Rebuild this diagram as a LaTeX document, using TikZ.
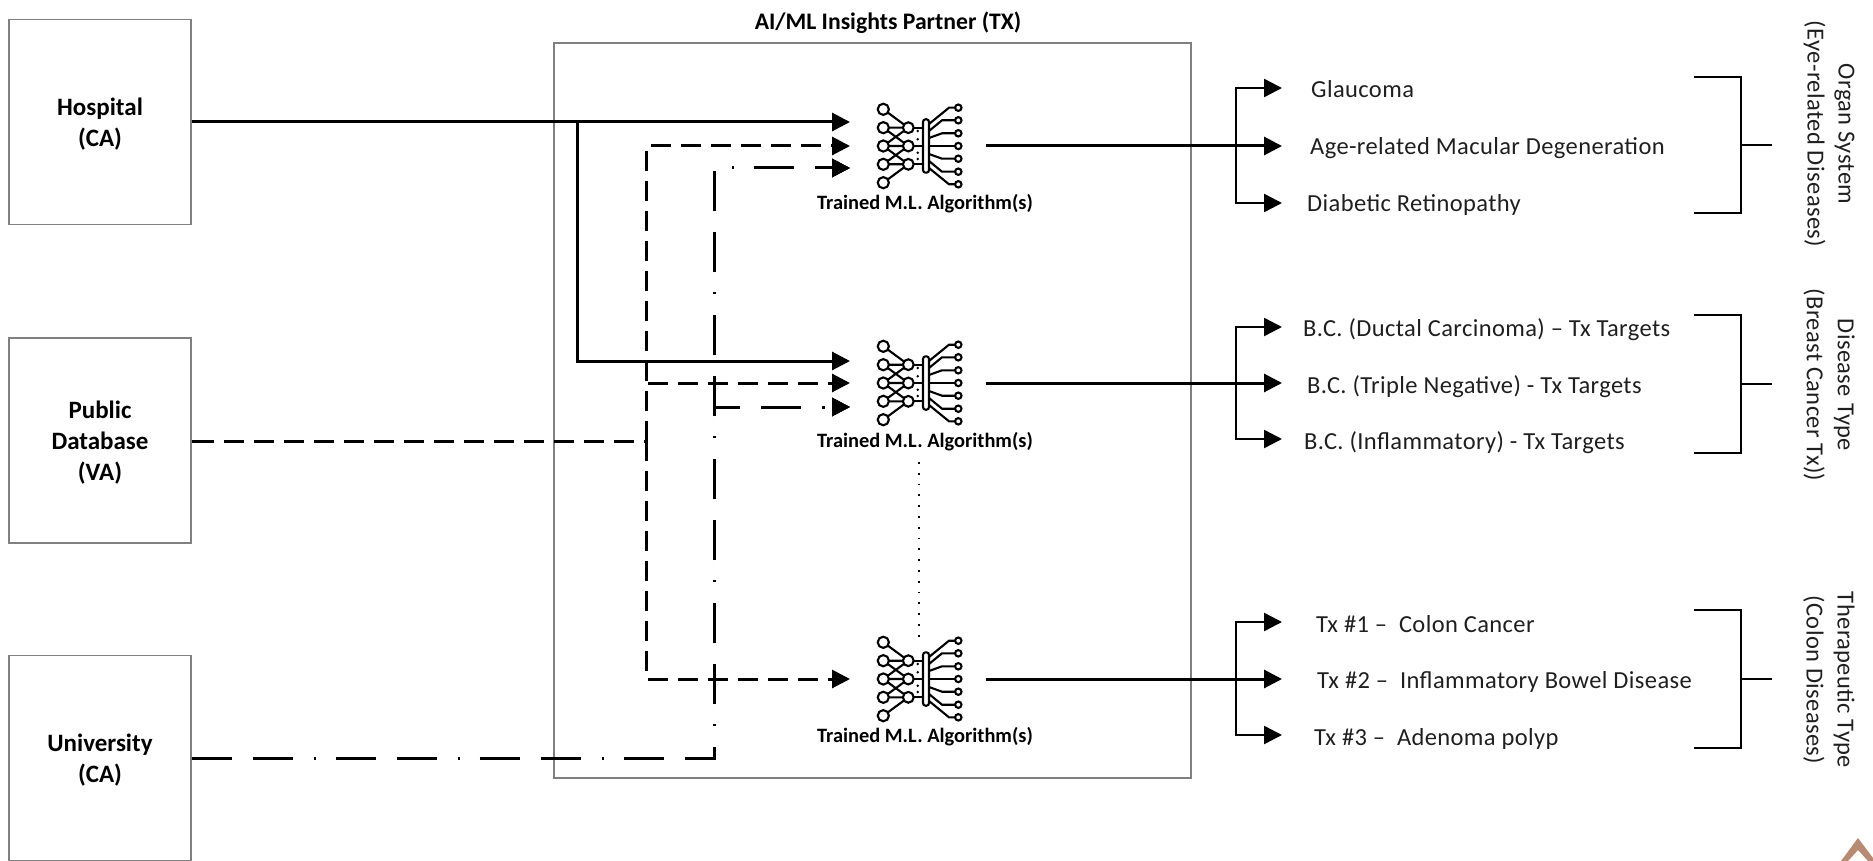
\documentclass[tikz,border=0pt]{standalone}
\usepackage{fontspec}
\setmainfont{Carlito}
\newfontfamily\spacedfont[LetterSpace=1.6]{Carlito}
\usetikzlibrary{arrows.meta}
\definecolor{framegray}{HTML}{808080}
\definecolor{inktext}{HTML}{1F1F1F}
\definecolor{chevron}{HTML}{B98A72}
\newcommand{\bodyfs}{\spacedfont\fontsize{24.5}{31}\selectfont}
\newcommand{\boxfs}{\fontsize{25}{31}\selectfont\bfseries}
\newcommand{\titlefs}{\fontsize{23.7}{28}\selectfont\bfseries}
\newcommand{\mlfs}{\fontsize{20.4}{24}\selectfont\bfseries}
\newcommand{\lift}{\rule{0pt}{22pt}}
\tikzset{
  x=1pt,y=-1pt,
  srcbox/.style={draw=framegray,line width=1.4pt,inner sep=0pt,minimum width=182pt,minimum height=205pt,align=center,font=\boxfs,text=black},
  outer/.style={draw=framegray,line width=1.2pt},
  conn/.style={line width=3pt,draw=black},
  tipped/.style={-{Triangle[length=18pt,width=18pt,fill=black]}},
  thinconn/.style={line width=2.4pt,draw=black},
  dashA/.style={dash pattern=on 20pt off 10pt},
  dashFirst/.style={dash pattern=on 40pt off 104pt},
  dashSecond/.style={dash pattern=on 40pt off 104pt},
  dashDot/.style={dash pattern=on 2.5pt off 141.5pt},
  item/.style={anchor=west,inner sep=0pt,yshift=-2pt,font=\bodyfs,text=inktext},
  mllabel/.style={inner sep=0pt,font=\mlfs,text=black},
  side/.style={rotate=-90,align=center,inner sep=0pt,font=\bodyfs,text=inktext},
  mlicon/.pic={
    \begin{scope}[line width=2.1pt,draw=black]
      \draw (-36.7,-36.7)--(-11.7,-18.3);
      \draw (-36.7,-18.3)--(-11.7,-18.3) (-36.7,-18.3)--(-11.7,0);
      \draw (-36.7,0)--(-11.7,-18.3) (-36.7,0)--(-11.7,0) (-36.7,0)--(-11.7,18.3);
      \draw (-36.7,18.3)--(-11.7,0) (-36.7,18.3)--(-11.7,18.3);
      \draw (-36.7,36.7)--(-11.7,18.3);
      \draw (-11.7,-18.3)--(6,-18.3) (-11.7,0)--(6,0) (-11.7,18.3)--(6,18.3);
      \foreach \yy in {-36.7,-18.3,0,18.3,36.7}{\draw[fill=white] (-36.7,\yy) circle (5.6pt);}
      \foreach \yy in {-18.3,0,18.3}{\draw[fill=white] (-11.7,\yy) circle (5.4pt);}
      \draw (9,-22)--(29,-38.3)--(35,-38.3);
      \draw (9,-15)--(22,-25.7)--(35,-25.7);
      \draw (9,-8)--(22,-12.7)--(35,-12.7);
      \draw (9,0)--(35,0);
      \draw (9,8)--(22,12.7)--(35,12.7);
      \draw (9,15)--(22,25.7)--(35,25.7);
      \draw (9,22)--(29,38.3)--(35,38.3);
      \foreach \yy in {-38.3,-25.7,-12.7,0,12.7,25.7,38.3}{\draw[fill=white] (38.3,\yy) circle (3.2pt);}
      \draw[fill=white,rounded corners=2.6pt] (3,-26.7) rectangle (9,26.7);
      \foreach \yy in {-15,-6.7,6.7,13}{\fill (-2.3,\yy) circle (1.4pt);}
    \end{scope}
  }
}
\begin{document}
\begin{tikzpicture}
\useasboundingbox (0,0) rectangle (1873,861);
% source boxes
\node[srcbox] (hospital) at (100,122) {\lift Hospital\\(CA)};
\node[srcbox] (public) at (100,440.5) {\lift Public\\Database\\(VA)};
\node[srcbox] (university) at (100,758) {\lift University\\(CA)};
% partner box
\node[outer,draw,inner sep=0pt,minimum width=637pt,minimum height=735pt] (partner) at (872.5,410.5) {};
\node[inner sep=0pt,font=\titlefs,text=black] (partnerlabel) at (888,23) {AI/ML Insights Partner (TX)};
% icons
\coordinate (m1) at (920,146); \coordinate (m2) at (920,383); \coordinate (m3) at (920,679);
\pic at (m1) {mlicon}; \pic at (m2) {mlicon}; \pic at (m3) {mlicon};
\node[mllabel] (l1) at (925,204) {Trained M.L. Algorithm(s)};
\node[mllabel] (l2) at (925,442) {Trained M.L. Algorithm(s)};
\node[mllabel] (l3) at (925,737) {Trained M.L. Algorithm(s)};
\coordinate (dotstart) at (919,462); \coordinate (dotend) at (919,645);
\draw[line width=1.8pt,dash pattern=on 1.8pt off 9pt] (dotstart)--(dotend);
% arrow targets
\coordinate (a1) at (850,122); \coordinate (a2) at (850,146); \coordinate (a3) at (850,168);
\coordinate (b1) at (850,361); \coordinate (b2) at (850,383); \coordinate (b3) at (850,407);
\coordinate (c2) at (850,679);
% junctions
\coordinate (jH) at (577,122); \coordinate (jD) at (646,441); \coordinate (jU) at (714,758);
\coordinate (pubstub) at (194,441);
% hospital
\draw[conn,tipped] (hospital.east)--(a1);
\draw[conn,tipped] (jH)|-(b1);
% public
\draw[conn] (public.east |- jD)--(pubstub);
\draw[conn,dashA] (pubstub)--(jD);
\draw[conn,dashA,tipped] (jD)|-(a2);
\draw[conn,dashA,tipped] (jD)|-(c2);
\draw[conn,dashA,dash phase=28pt,tipped] (jD |- b2)--(b2);
% university: long dash, long dash, dot
\draw[conn,dashFirst,tipped] (university.east)--(jU)|-(a3);
\draw[conn,dashSecond,dash phase=83pt,tipped] (university.east)--(jU)|-(a3);
\draw[conn,dashDot,dash phase=22pt,tipped] (university.east)--(jU)|-(a3);
\draw[conn,dashFirst,dash phase=14pt,tipped] (jU |- b3)--(b3);
\draw[conn,dashSecond,dash phase=97pt,tipped] (jU |- b3)--(b3);
\draw[conn,dashDot,dash phase=36pt,tipped] (jU |- b3)--(b3);
% outputs
\foreach \nm/\yy/\ya/\yc in {p/146/88/203,q/383/327/439,r/679/622/735}{
  \coordinate (\nm s) at (986,\yy);
  \coordinate (\nm j) at (1236,\yy);
  \coordinate (\nm t) at (1282,\ya);
  \coordinate (\nm m) at (1282,\yy);
  \coordinate (\nm b) at (1282,\yc);
  \draw[conn,tipped] (\nm s)--(\nm m);
  \draw[thinconn,tipped] (\nm j)|-(\nm t);
  \draw[thinconn,tipped] (\nm j)|-(\nm b);
}
% items
\node[item] (i1) at (1311,87) {Glaucoma};
\node[item] (i2) at (1310,146) {Age-related Macular Degeneration};
\node[item] (i3) at (1307,203) {Diabetic Retinopathy};
\node[item] (i4) at (1303,328) {B.C. (Ductal Carcinoma) – Tx Targets};
\node[item] (i5) at (1307,385) {B.C. (Triple Negative) - Tx Targets};
\node[item] (i6) at (1304,441) {B.C. (Inflammatory) - Tx Targets};
\node[item] (i7) at (1316,622) {Tx \#1 –\ \ Colon Cancer};
\node[item] (i8) at (1317,680) {Tx \#2 –\ \ Inflammatory Bowel Disease};
\node[item] (i9) at (1314,737) {Tx \#3 –\ \ Adenoma polyp};
% brackets
\foreach \nm/\ya/\ym/\yb in {u/77/145/213,v/315/384/453,w/610/679/748}{
  \coordinate (\nm a) at (1694,\ya);
  \coordinate (\nm c) at (1694,\yb);
  \coordinate (\nm v) at (1741,\ym);
  \coordinate (\nm e) at (1772,\ym);
  \draw[thinconn] (\nm a)-|(\nm v)|-(\nm c);
  \draw[thinconn] (\nm v)--(\nm e);
}
% side labels
\node[side] (s1) at (1829,134) {Organ System\\(Eye-related Diseases)};
\node[side] (s2) at (1829,385) {Disease Type\\(Breast Cancer Tx))};
\node[side] (s3) at (1829,680) {Therapeutic Type\\(Colon Diseases)};
% corner mark
\fill[chevron] (1858,838)--(1873,858)--(1873,861)--(1868,861)--(1858,850)--(1848,861)--(1841,861)--cycle;
\end{tikzpicture}
\end{document}
